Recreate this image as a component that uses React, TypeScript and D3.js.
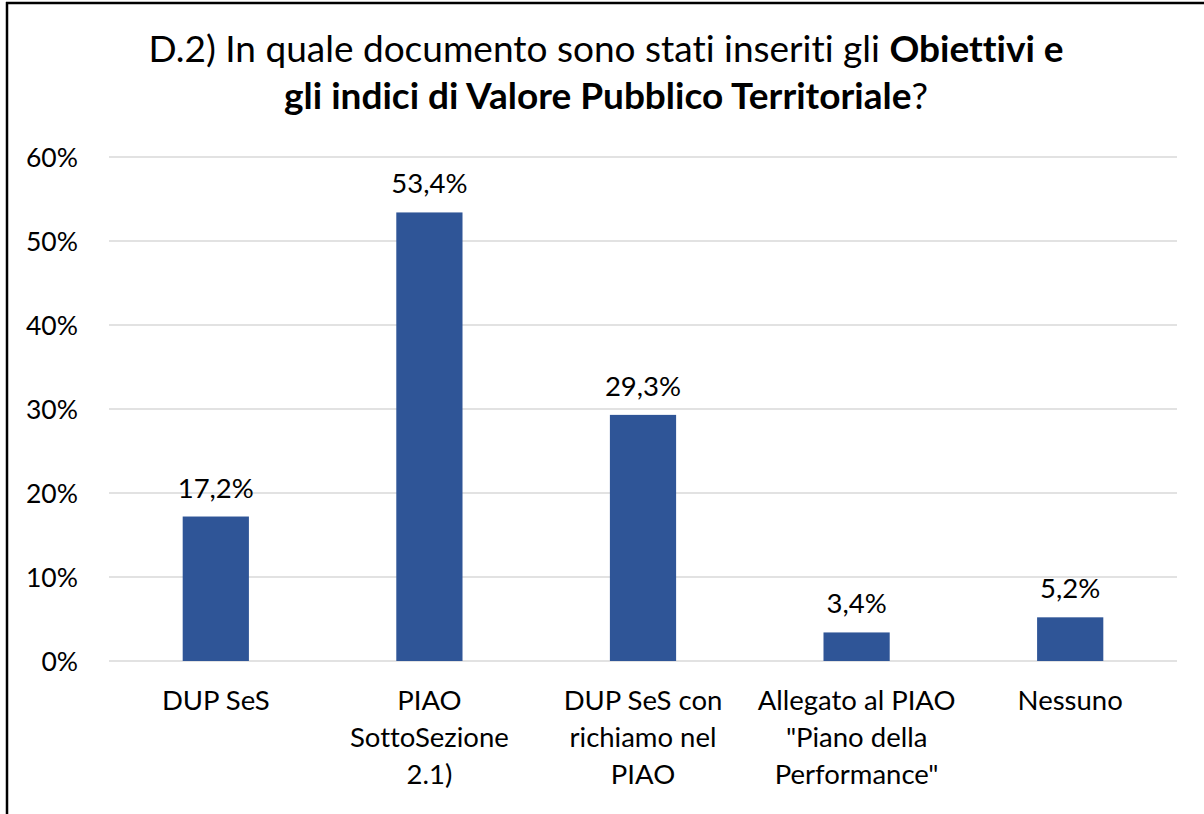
import React from "react";
import * as d3 from "d3";

const categories = ["DUP SeS", "PIAO SottoSezione 2.1)", "DUP SeS con richiamo nel PIAO", "Allegato al PIAO \"Piano della Performance\"", "Nessuno"];
const categoryLines = [
  ["DUP SeS"],
  ["PIAO", "SottoSezione", "2.1)"],
  ["DUP SeS con", "richiamo nel", "PIAO"],
  ["Allegato al PIAO", "\"Piano della", "Performance\""],
  ["Nessuno"],
];
const values = [17.2, 53.4, 29.3, 3.4, 5.2];
const valueLabels = ["17,2%", "53,4%", "29,3%", "3,4%", "5,2%"];
const yTicks = [0, 10, 20, 30, 40, 50, 60];

const W = 1204;
const H = 814;
const FONT = "Lato, 'Open Sans', sans-serif";

export default function App() {
  const left = 109, right = 1177, top = 157, bottom = 661;
  const x = d3.scaleBand<string>().domain(categories).range([left, right]).paddingInner(0.69).paddingOuter(0.345);
  const y = d3.scaleLinear().domain([0, 60]).range([bottom, top]);
  return (
    <svg width={W} height={H} style={{ position: "absolute", left: 0, top: 0, background: "#fff", fontVariantLigatures: "none" }} fontFamily={FONT}>
      <rect x={0} y={0} width={W} height={H} fill="#fff" />
      <line x1={7} y1={2} x2={7} y2={H} stroke="#000" strokeWidth={2.5} />
      <line x1={6} y1={3} x2={W} y2={3} stroke="#000" strokeWidth={2.5} />
      <text x={606} y={62} textAnchor="middle" fontSize={37} fill="#000">
        <tspan>D.2) In quale documento sono stati inseriti gli </tspan>
        <tspan fontWeight="bold">Obiettivi e</tspan>
      </text>
      <text x={606} y={109} textAnchor="middle" fontSize={37} fill="#000">
        <tspan fontWeight="bold">gli indici di Valore Pubblico Territoriale</tspan>
        <tspan>?</tspan>
      </text>
      {yTicks.map((t) => (
        <g key={t}>
          <line x1={left} x2={right} y1={y(t)} y2={y(t)} stroke="#d9d9d9" strokeWidth={1.5} />
          <text x={78} y={y(t)} dy="0.36em" textAnchor="end" fontSize={26.5} fill="#000">{t}%</text>
        </g>
      ))}
      {categories.map((c, i) => {
        const bx = x(c)!;
        const cx = bx + x.bandwidth() / 2;
        return (
          <g key={c}>
            <rect x={bx} y={y(values[i])} width={x.bandwidth()} height={y(0) - y(values[i])} fill="#2F5597" />
            <text x={cx} y={y(values[i]) - 19} textAnchor="middle" fontSize={27.5} fill="#000">{valueLabels[i]}</text>
            {categoryLines[i].map((ln, j) => (
              <text key={j} x={cx} y={710 + j * 37} textAnchor="middle" fontSize={27.5} fill="#000">{ln}</text>
            ))}
          </g>
        );
      })}
    </svg>
  );
}
